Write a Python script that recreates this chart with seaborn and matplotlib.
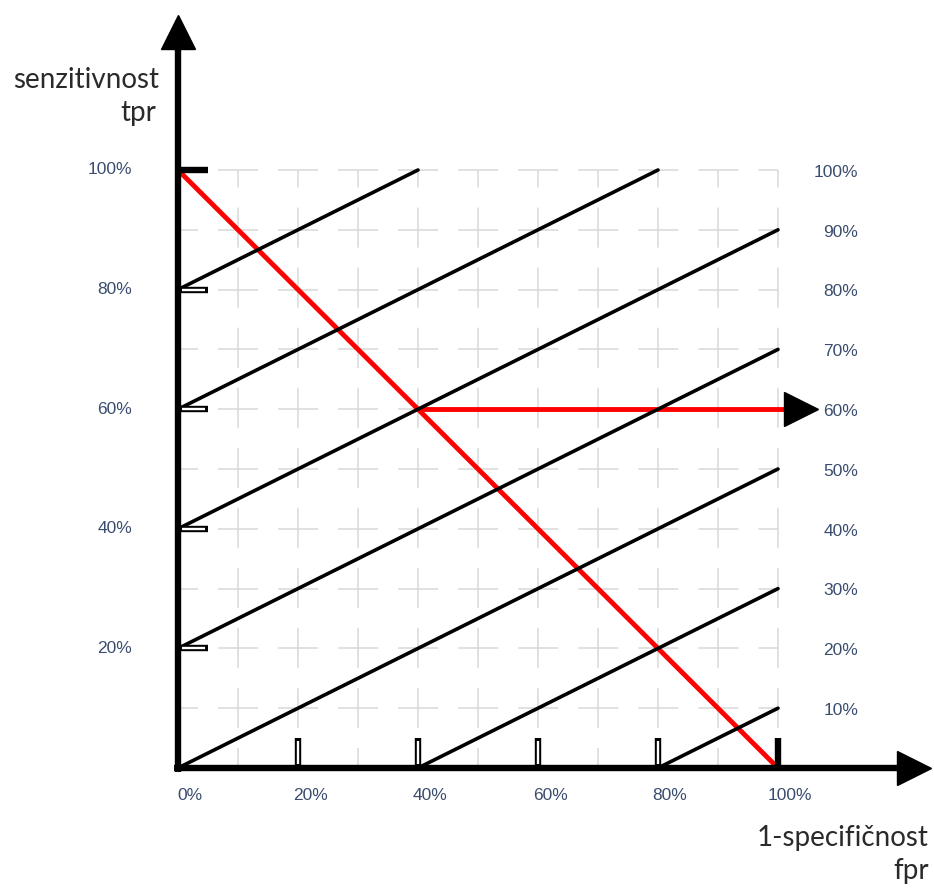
import matplotlib
matplotlib.use("Agg")
import matplotlib.pyplot as plt
import pandas as pd
import seaborn as sns

# iso-linije (nagib 0.5) - začetek in konec
iso_fpr_start = [0, 0, 0, 0, 0, 40, 80]
iso_tpr_start = [80, 60, 40, 20, 0, 0, 0]
iso_fpr_end = [40, 80, 100, 100, 100, 100, 100]
iso_tpr_end = [100, 100, 90, 70, 50, 30, 10]

# rdeča diagonala in delovna točka
chance_fpr = [0, 100]
chance_tpr = [100, 0]
op_fpr = 40
op_tpr = 60

grid_levels = [10, 20, 30, 40, 50, 60, 70, 80, 90, 100]
axis_ticks = [20, 40, 60, 80]
bottom_labels = [0, 20, 40, 60, 80, 100]
left_labels = [20, 40, 60, 80, 100]
right_labels = [100, 90, 80, 70, 60, 50, 40, 30, 20, 10]

rows = []
for i in range(len(iso_fpr_start)):
    rows.append({"line": i, "fpr": iso_fpr_start[i], "tpr": iso_tpr_start[i]})
    rows.append({"line": i, "fpr": iso_fpr_end[i], "tpr": iso_tpr_end[i]})
iso = pd.DataFrame(rows)
chance = pd.DataFrame({"fpr": chance_fpr, "tpr": chance_tpr})

sns.set_style("white")

# pretvorba pikslov v podatke (samo za postavitev)
def fx(px):
    return (px - 178) / 6.0

def fy(py):
    return (768 - py) / 5.98

fig = plt.figure(figsize=(9.34, 8.89), dpi=100)
ax = fig.add_axes([0, 0, 1, 1])
ax.set_xlim(fx(0), fx(934))
ax.set_ylim(fy(889), fy(0))
ax.axis("off")

# mreža
dash = (13.1, (26.2, 13.1))
ax.vlines(grid_levels, 0, 100, colors="#d9d9d9", lw=1.1, linestyles=[dash], zorder=1)
ax.hlines(grid_levels, 0, 100, colors="#d9d9d9", lw=1.1, linestyles=[dash], zorder=1)

# rdeča črta
sns.lineplot(data=chance, x="fpr", y="tpr", color="red", lw=3.5, ax=ax, zorder=3,
             estimator=None, sort=False)
ax.plot([op_fpr, fx(790)], [op_tpr, op_tpr], color="red", lw=3.5, zorder=3,
        solid_capstyle="butt")
ax.plot([fx(801)], [op_tpr], marker=">", ms=24, color="black", mec="black", zorder=6)

# iso-linije
sns.lineplot(data=iso, x="fpr", y="tpr", units="line", estimator=None, color="black",
             lw=2.6, ax=ax, zorder=4, sort=False)

# osi
ax.plot([0, 0], [fy(772), fy(40)], color="black", lw=4.6, zorder=5, solid_capstyle="butt")
ax.plot([fx(174), fx(905)], [0, 0], color="black", lw=4.6, zorder=5, solid_capstyle="butt")
ax.plot([0], [fy(31.5)], marker="^", ms=25, color="black", zorder=6)
ax.plot([fx(913.5)], [0], marker=">", ms=25, color="black", zorder=6)

# oznake na oseh
tick_len = 5.0
ax.vlines(axis_ticks, 0, tick_len, colors="black", lw=4.6, zorder=5)
ax.vlines(axis_ticks, 0.6, tick_len - 0.45, colors="white", lw=1.7, zorder=5)
ax.vlines([100], 0, tick_len, colors="black", lw=4.6, zorder=5)
ax.hlines(axis_ticks, 0, tick_len, colors="black", lw=4.6, zorder=5)
ax.hlines(axis_ticks, 0.6, tick_len - 0.45, colors="white", lw=1.7, zorder=5)
ax.hlines([100], 0, tick_len, colors="black", lw=4.6, zorder=5)

lab_font = dict(family=["Liberation Sans", "DejaVu Sans"], fontsize=12.5, color="#3a4d6e")
for v in bottom_labels:
    ax.text(v + 2.0, fy(795), f"{v}%", ha="center", va="center", **lab_font)
for v in left_labels:
    ax.text(fx(132), v, f"{v}%", ha="right", va="center", **lab_font)
for v in right_labels:
    ax.text(fx(858), v - 0.4, f"{v}%", ha="right", va="center", **lab_font)

title_font = dict(family=["Lato", "DejaVu Sans"], fontsize=20, color="#2a2a2a")
ax.text(fx(159), fy(80), "senzitivnost", ha="right", va="center", **title_font)
ax.text(fx(156), fy(113), "tpr", ha="right", va="center", **title_font)
ax.text(fx(929), fy(838), "1-specifičnost", ha="right", va="center", **title_font)
ax.text(fx(929), fy(871), "fpr", ha="right", va="center", **title_font)

fig.savefig("out.png", dpi=100)
